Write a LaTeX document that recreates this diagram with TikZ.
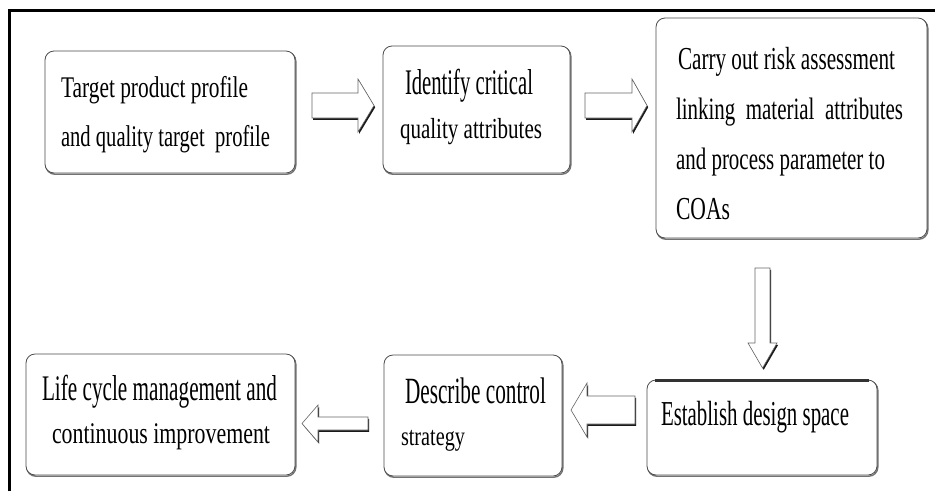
\documentclass[tikz,border=0pt]{standalone}
\usepackage{graphicx}
\usepackage{fontspec}
\setmainfont{Liberation Serif}
\usetikzlibrary{calc}

% one line of text at a given size, squeezed to a given width
\newcommand\fitline[3]{{\fontsize{#1pt}{#1pt}\selectfont\resizebox{#2pt}{\height}{#3}}}
% stack of lines with a fixed baseline distance; baseline = first line
\newcommand\linestack[2]{\vtop{\baselineskip=#1pt\lineskiplimit=-1000pt\lineskip=0pt #2}}
% hollow block arrow: #1 tail, #2 tip, #3 shaft half width, #4 head half width, #5 head length
\newcommand\blockarrow[5]{%
  \coordinate (ba-h) at ($(#2)!#5pt!(#1)$);
  \path[arrowbody]
    ($(#1)!#3pt!90:(#2)$) -- ($(ba-h)!#3pt!-90:(#1)$) -- ($(ba-h)!#4pt!-90:(#1)$)
    -- (#2) -- ($(ba-h)!#4pt!90:(#1)$) -- ($(ba-h)!#3pt!90:(#1)$)
    -- ($(#1)!#3pt!-90:(#2)$) -- cycle;
}

\tikzset{
  stepbox/.style={draw=black!70, line width=0.8pt, rounded corners=9pt, fill=white,
    inner sep=0pt, outer sep=0pt,
    preaction={draw=black!55, line width=1.4pt,
      transform canvas={xshift=0.8pt,yshift=-1.2pt}}},
  steptext/.style={inner sep=0pt, outer sep=0pt, anchor=base west, text=black},
  arrowbody/.style={fill=white, draw=black!60, line width=0.6pt,
    preaction={fill=black!90, transform canvas={xshift=1.2pt,yshift=-1.8pt}}},
}

\begin{document}
\begin{tikzpicture}[x=1pt, y=-1pt]
\useasboundingbox (0,0) rectangle (935,491);
\fill[white] (0,0) rectangle (935,491);

% frame (top and left edges)
\draw[line width=3pt, line cap=butt] (9,491) -- (9,10.5) -- (935,10.5);

% process boxes
\node[stepbox, minimum width=250pt, minimum height=122pt] (b1) at (170,112) {};
\node[stepbox, minimum width=187pt, minimum height=127pt] (b2) at (476.5,109.5) {};
\node[stepbox, minimum width=271pt, minimum height=220pt] (b3) at (791.5,128) {};
\node[stepbox, minimum width=269pt, minimum height=121pt] (b4) at (160.5,414.5) {};
\node[stepbox, minimum width=178pt, minimum height=121pt] (b5) at (473,415.5) {};
\node[stepbox, minimum width=230pt, minimum height=95pt] (b6) at (762,427.5) {};
\draw[line width=2.4pt, black!80] ([xshift=8pt,yshift=-0.6pt]b6.north west) -- ([xshift=-8pt,yshift=-0.6pt]b6.north east);

% box texts
\node[steptext] (t1) at (61,97) {\linestack{49}{%
  \hbox{\fitline{30}{187}{Target product profile}}%
  \hbox{\fitline{30}{209}{and quality target\ \ profile}}}};
\node[steptext] (t2) at (400,94) {\linestack{44}{%
  \hbox{\kern5pt\fitline{36}{128}{Identify critical}}%
  \hbox{\fitline{29}{142}{quality attributes}}}};
\node[steptext] (t3) at (676,69) {\linestack{50}{%
  \hbox{\kern2pt\fitline{32}{217}{Carry out risk assessment}}%
  \hbox{\fitline{31}{227}{linking\ \ material\ \ attributes}}%
  \hbox{\fitline{31}{209}{and process parameter to}}%
  \hbox{\fitline{32}{54}{COAs}}}};
\node[steptext] (t4) at (42,400) {\linestack{43}{%
  \hbox{\fitline{36}{235}{Life cycle management and}}%
  \hbox{\kern10pt\fitline{30}{218}{continuous improvement}}}};
\node[steptext] (t5) at (401,403) {\linestack{42}{%
  \hbox{\kern4pt\fitline{37}{141}{Describe control}}%
  \hbox{\fitline{27}{64}{strategy}}}};
\node[steptext] (t6) at (661,425) {\fitline{35}{188}{Establish design space}};

% arrow end points
\coordinate (a1s) at (312,105.5);   \coordinate (a1e) at (374,105.5);
\coordinate (a2s) at (585,105.5);   \coordinate (a2e) at (647,105.5);
\coordinate (a3s) at (762.5,268);   \coordinate (a3e) at (762.5,368);
\coordinate (a4s) at (635,410);     \coordinate (a4e) at (571,410);
\coordinate (a5s) at (368,423.5);   \coordinate (a5e) at (302,423.5);

% hollow block arrows between the steps
\blockarrow{a1s}{a1e}{12.5}{26.5}{16}
\blockarrow{a2s}{a2e}{12.5}{26.5}{15}
\blockarrow{a3s}{a3e}{7.5}{14.5}{25}
\blockarrow{a4s}{a4e}{14}{27}{16}
\blockarrow{a5s}{a5e}{6.5}{18.5}{16}
\end{tikzpicture}
\end{document}
